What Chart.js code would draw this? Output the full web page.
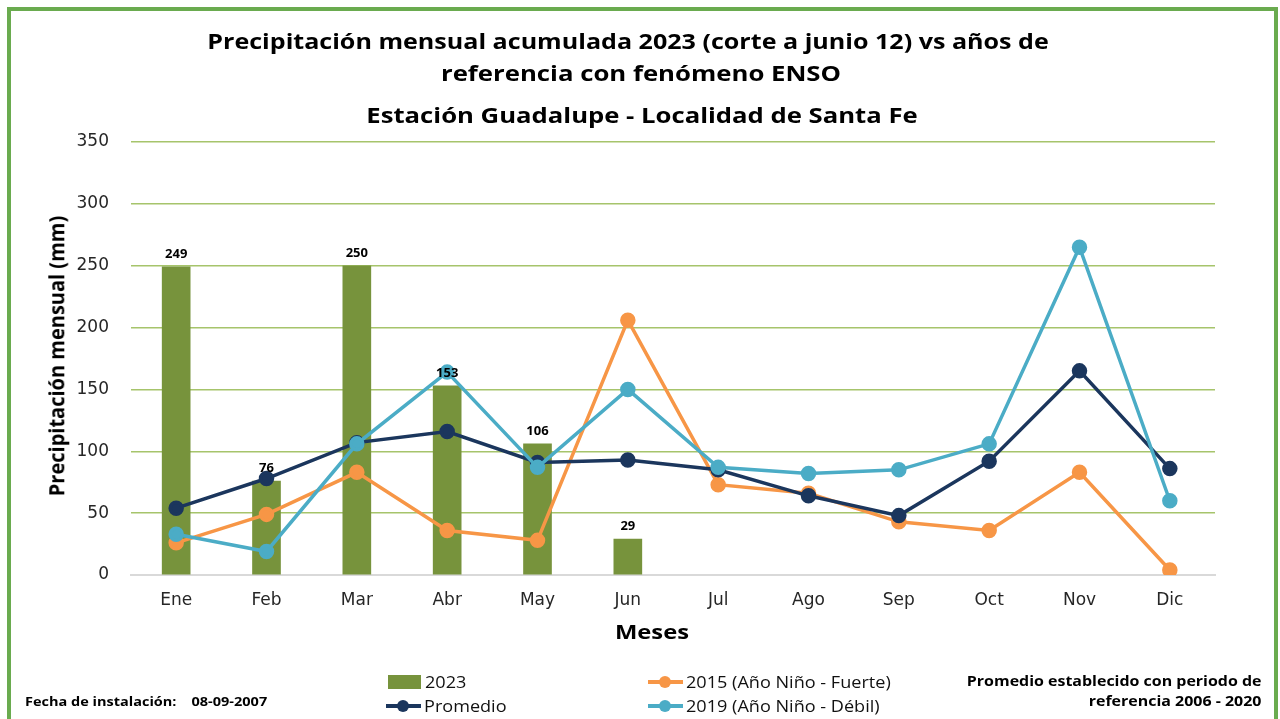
<!DOCTYPE html>
<html>
<head>
<meta charset="utf-8">
<script src="https://cdn.jsdelivr.net/npm/chart.js@4.4.0/dist/chart.umd.min.js"></script>
<style>
  html, body { margin: 0; padding: 0; background: #fff; width: 1280px; height: 719px; overflow: hidden; font-family: "Open Sans", sans-serif; }
  #wrap { position: relative; width: 1280px; height: 719px; }
  #frame { position: absolute; left: 7px; top: 7px; width: 1263px; height: 730px; border: 4px solid #6aab4f; box-sizing: content-box; }
  canvas { position: absolute; left: 0; top: 0; }
  .t { position: absolute; font-weight: bold; color: #000; white-space: nowrap; }
  .title { width: 1000px; text-align: center; font-size: 22px; transform-origin: center center; }
  .leg { position: absolute; font-size: 16px; color: #111; white-space: nowrap; display: flex; align-items: center; }
  .leg .tx { display: inline-block; transform: scaleX(1.13); transform-origin: left center; }
  .sw { display: inline-block; width: 33px; height: 14px; margin-right: 4px; }
  .ln { position: relative; display: inline-block; width: 35px; height: 14px; margin-right: 3px; }
  .ln::before { content: ""; position: absolute; left: 0; right: 0; top: 5px; height: 4px; background: var(--c); }
  .ln::after { content: ""; position: absolute; left: 11px; top: 1px; width: 12px; height: 12px; border-radius: 50%; background: var(--c); }
</style>
</head>
<body>
<div id="wrap">
  <div id="frame"></div>
  <canvas id="c" width="1280" height="719"></canvas>
  <div class="t title" style="left:128px; top:25px; transform:scaleX(1.14);">Precipitación mensual acumulada 2023 (corte a junio 12) vs años de</div>
  <div class="t title" style="left:141px; top:57px; transform:scaleX(1.17);">referencia con fenómeno ENSO</div>
  <div class="t title" style="left:142px; top:99px; transform:scaleX(1.167);">Estación Guadalupe - Localidad de Santa Fe</div>
  <div class="t" style="left:-143px; top:344px; width:400px; text-align:center; line-height:24px; font-size:20px; transform:rotate(-90deg) scaleY(1.05);">Precipitación mensual (mm)</div>
  <div class="t" style="left:552px; top:619px; width:200px; text-align:center; line-height:26px; font-size:19px; transform:scaleX(1.25);">Meses</div>
  <div class="t" style="left:25px; top:693px; font-size:12.5px; transform:scaleX(1.16); transform-origin:left center;">Fecha de instalación:&nbsp;&nbsp;&nbsp; 08-09-2007</div>
  <div class="t" style="right:18px; top:671px; font-size:14px; text-align:right; line-height:20px; transform:scaleX(1.14); transform-origin:right center;">Promedio establecido con periodo de<br>referencia 2006 - 2020</div>
  <div class="leg" style="left:388px; top:671px;"><span class="sw" style="background:#77933c"></span><span class="tx" id="l0"></span></div>
  <div class="leg" style="left:386px; top:695px;"><span class="ln" style="--c:#1b365d"></span><span class="tx" id="l1"></span></div>
  <div class="leg" style="left:648px; top:671px;"><span class="ln" style="--c:#f79646"></span><span class="tx" id="l2"></span></div>
  <div class="leg" style="left:648px; top:695px;"><span class="ln" style="--c:#4bacc6"></span><span class="tx" id="l3"></span></div>
</div>
<script>
const months = ["Ene","Feb","Mar","Abr","May","Jun","Jul","Ago","Sep","Oct","Nov","Dic"];
const seriesNames = ["2023","Promedio","2015 (Año Niño - Fuerte)","2019 (Año Niño - Débil)"];
const precip2023 = [249, 76, 250, 153, 106, 29, null, null, null, null, null, null];
const promedio = [54, 78, 107, 116, 91, 93, 85, 64, 48, 92, 165, 86];
const nino2015 = [26, 49, 83, 36, 28, 206, 73, 66, 43, 36, 83, 4];
const nino2019 = [33, 19, 106, 164, 87, 150, 87, 82, 85, 106, 265, 60];
const yTicks = [0, 50, 100, 150, 200, 250, 300, 350];

["l0","l1","l2","l3"].forEach((id, i) => document.getElementById(id).textContent = seriesNames[i]);

const barLabels = {
  id: 'barLabels',
  afterDatasetsDraw(chart) {
    const ctx = chart.ctx;
    const meta = chart.getDatasetMeta(0);
    ctx.save();
    ctx.font = 'bold 13px "Open Sans", sans-serif';
    ctx.fillStyle = '#000';
    ctx.textAlign = 'center';
    ctx.textBaseline = 'bottom';
    meta.data.forEach((el, i) => {
      const v = precip2023[i];
      if (v === null || v === undefined) return;
      ctx.fillText(String(v), el.x, el.y - 6);
    });
    ctx.restore();
  }
};

const lineDs = (label, data, color, order) => ({
  type: 'line', label, data, order,
  borderColor: color, backgroundColor: color,
  borderWidth: 3.5, pointRadius: 6, pointHoverRadius: 6,
  pointBackgroundColor: color, pointBorderColor: color, tension: 0, fill: false
});

const tickFont = { family: '"DejaVu Sans", sans-serif', size: 17 };

new Chart(document.getElementById('c'), {
  type: 'bar',
  data: {
    labels: months,
    datasets: [
      { type: 'bar', label: seriesNames[0], data: precip2023, backgroundColor: '#77933c', barThickness: 28, order: 4 },
      lineDs(seriesNames[1], promedio, '#1b365d', 2),
      lineDs(seriesNames[2], nino2015, '#f79646', 3),
      lineDs(seriesNames[3], nino2019, '#4bacc6', 1)
    ]
  },
  options: {
    responsive: false,
    animation: false,
    devicePixelRatio: 1,
    layout: { padding: { left: 35, right: 65, top: 142, bottom: 74 } },
    plugins: { legend: { display: false }, tooltip: { enabled: false }, title: { display: false } },
    scales: {
      x: {
        grid: { display: false, drawTicks: false },
        border: { display: true, color: '#d9d9d9', width: 2 },
        ticks: { padding: 15, color: '#262626', font: tickFont },
        afterFit(s) { s.height = 70; }
      },
      y: {
        min: 0, max: 350,
        afterBuildTicks(s) { s.ticks = yTicks.map(v => ({ value: v })); },
        grid: { color: (c) => c.tick && c.tick.value === 0 ? 'rgba(0,0,0,0)' : '#a6c46b', lineWidth: 1.5, drawTicks: false },
        border: { display: false },
        ticks: { padding: 22, color: '#262626', font: tickFont },
        afterFit(s) { s.width = 96; }
      }
    }
  },
  plugins: [barLabels]
});
</script>
</body>
</html>
